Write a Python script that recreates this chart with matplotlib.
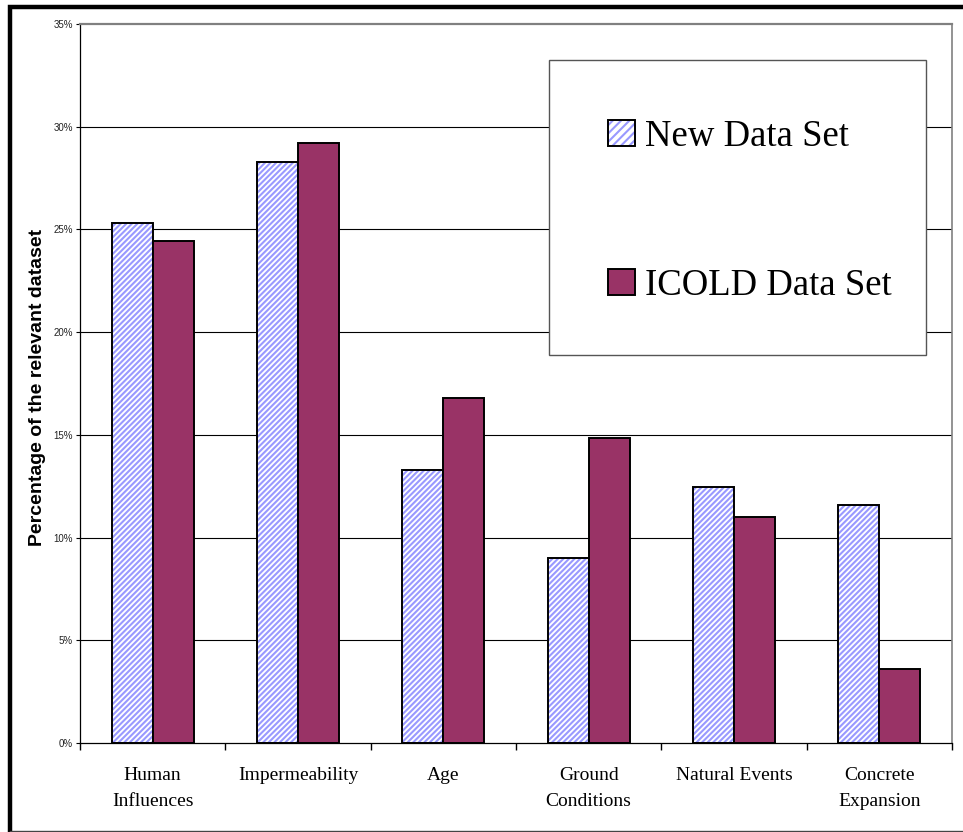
import matplotlib
matplotlib.use("Agg")
import matplotlib.pyplot as plt
import numpy as np
from matplotlib.patches import Rectangle, Patch
from matplotlib.lines import Line2D
from matplotlib.legend_handler import HandlerTuple

# Datos (porcentaje del conjunto de datos)
categorias = ["Human\nInfluences", "Impermeability", "Age",
              "Ground\nConditions", "Natural Events", "Concrete\nExpansion"]
nuevo = [25.3, 28.3, 13.3, 9.0, 12.45, 11.6]
icold = [24.45, 29.2, 16.8, 14.85, 11.0, 3.6]
yticks = [0, 5, 10, 15, 20, 25, 30, 35]

plt.rcParams["hatch.linewidth"] = 1.5

W, H = 963, 832
fig = plt.figure(figsize=(W / 100, H / 100), dpi=100)
ax = fig.add_axes([80 / W, 1 - 743 / H, 872 / W, 719 / H])

x = np.arange(len(categorias))
ancho = 0.282
trama = "//////"

# Serie "New Data Set": trama diagonal lila con contorno negro
ax.bar(x - ancho / 2, nuevo, ancho, color="white", edgecolor="#9999FF",
       hatch=trama, linewidth=0, zorder=3)
ax.bar(x - ancho / 2, nuevo, ancho, fill=False, edgecolor="black",
       linewidth=1.4, zorder=4)
# Serie "ICOLD Data Set": granate sólido
ax.bar(x + ancho / 2, icold, ancho, color="#993366", edgecolor="black",
       linewidth=1.4, zorder=4)

ax.set_xlim(-0.5, len(categorias) - 0.5)
ax.set_ylim(0, 35)
ax.set_yticks(yticks)
ax.set_yticklabels([f"{v}%" for v in yticks], fontsize=7,
                   family="Liberation Sans", color="#222222")
ax.tick_params(axis="y", length=3, width=0.8, pad=2)

ax.set_xticks(x)
ax.set_xticklabels(categorias, fontsize=14, family="Liberation Serif",
                   linespacing=1.75)
ax.set_xticks(np.arange(-0.5, len(categorias)), minor=True)
ax.tick_params(axis="x", which="major", length=0, pad=17)
ax.tick_params(axis="x", which="minor", length=5, width=1)

# Rejilla horizontal negra (la de 35% coincide con el borde gris)
for v in yticks[1:-1]:
    ax.axhline(v, color="black", linewidth=0.8, zorder=1)

ax.spines["top"].set_color("#808080")
ax.spines["top"].set_linewidth(1.6)
ax.spines["right"].set_color("#808080")
ax.spines["right"].set_linewidth(1.2)
ax.spines["left"].set_color("black")
ax.spines["left"].set_linewidth(0.9)
ax.spines["bottom"].set_color("black")
ax.spines["bottom"].set_linewidth(0.9)

fig.text(38 / W, 1 - 387 / H, "Percentage of the relevant dataset",
         rotation=90, ha="center", va="center", fontsize=14,
         fontweight="bold", family="Liberation Sans")

# Caja de la leyenda
caja = Rectangle((549 / W, 1 - 355 / H), 377 / W, 295 / H,
                 transform=fig.transFigure, facecolor="white",
                 edgecolor="#555555", linewidth=1.0, zorder=10)
fig.patches.append(caja)

h_nuevo = (Patch(facecolor="white", edgecolor="#9999FF", hatch="////", linewidth=0),
           Patch(fill=False, edgecolor="black", linewidth=1.4))
h_icold = Patch(facecolor="#993366", edgecolor="black", linewidth=1.4)
leg = fig.legend([h_nuevo, h_icold], ["New Data Set", "ICOLD Data Set"],
                 handler_map={tuple: HandlerTuple(ndivide=1, pad=0)},
                 loc="center left", bbox_to_anchor=(608 / W, 1 - 211 / H),
                 frameon=False, borderpad=0, borderaxespad=0,
                 handlelength=0.72, handleheight=0.72, handletextpad=0.28,
                 labelspacing=3.1,
                 prop={"family": "Liberation Serif", "size": 26.5})
leg.set_zorder(11)

# Marco exterior: grueso negro arriba e izquierda, fino gris abajo
fig.add_artist(Line2D([10 / W, 10 / W, 1], [1 - 830 / H, 1 - 6.5 / H, 1 - 6.5 / H],
                      transform=fig.transFigure, color="black", linewidth=3.2,
                      solid_joinstyle="miter"))
fig.add_artist(Line2D([10 / W, 1], [1 - 830.5 / H, 1 - 830.5 / H],
                      transform=fig.transFigure, color="#444444", linewidth=1.0))

fig.savefig("out.png", dpi=100)
